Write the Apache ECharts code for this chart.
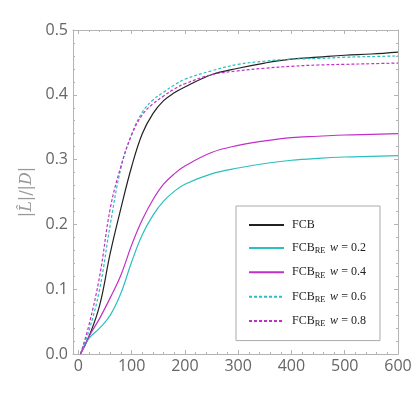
<!DOCTYPE html>
<html>
<head>
<meta charset="utf-8">
<script src="https://cdn.jsdelivr.net/npm/echarts@6/dist/echarts.min.js"></script>
</head>
<body style="margin:0;background:#fff;">
<div id="chart" style="width:416px;height:396px;"></div>
<script type="text/javascript">
// data
var xs = [4, 20, 40, 60, 80, 100, 120, 140, 160, 180, 200, 250, 300, 350, 400, 450, 500, 550, 600];
var fcb = [0, 0.027, 0.075, 0.156, 0.225, 0.289, 0.340, 0.371, 0.391, 0.403, 0.412, 0.431, 0.441, 0.449, 0.455, 0.458, 0.461, 0.463, 0.466];
var w02 = [0, 0.024, 0.040, 0.060, 0.094, 0.142, 0.184, 0.214, 0.236, 0.251, 0.262, 0.278, 0.287, 0.294, 0.299, 0.302, 0.304, 0.305, 0.306];
var w04 = [0, 0.027, 0.055, 0.087, 0.122, 0.168, 0.207, 0.238, 0.262, 0.278, 0.290, 0.311, 0.322, 0.329, 0.334, 0.336, 0.338, 0.339, 0.340];
var w06 = [0, 0.036, 0.100, 0.200, 0.287, 0.339, 0.373, 0.392, 0.404, 0.415, 0.424, 0.437, 0.447, 0.452, 0.455, 0.456, 0.458, 0.459, 0.460];
var w08 = [0, 0.045, 0.120, 0.225, 0.290, 0.338, 0.369, 0.386, 0.398, 0.409, 0.417, 0.431, 0.437, 0.441, 0.444, 0.446, 0.447, 0.448, 0.449];
var xMajor = [0, 100, 200, 300, 400, 500, 600];
var xMinor = [20, 40, 60, 80, 120, 140, 160, 180, 220, 240, 260, 280, 320, 340, 360, 380, 420, 440, 460, 480, 520, 540, 560, 580];

var frameColor = '#b4b4b4';
var labelColor = '#666';

function pairs(ys) {
	return xs.map(function (x, i) { return [x, ys[i]]; });
}

var legendText = {
	'FCB': '{n|FCB}',
	'w02': '{n|FCB}{s|RE} {i|w} {n|= 0.2}',
	'w04': '{n|FCB}{s|RE} {i|w} {n|= 0.4}',
	'w06': '{n|FCB}{s|RE} {i|w} {n|= 0.6}',
	'w08': '{n|FCB}{s|RE} {i|w} {n|= 0.8}'
};

function xAxisDef(pos, ticks, len, showLine, showLabel) {
	return {
		type: 'value', position: pos, min: -10, max: 600,
		axisLine: { show: showLine, onZero: false, lineStyle: { color: frameColor, width: 1 } },
		axisTick: { show: true, inside: true, length: len, customValues: ticks, lineStyle: { color: frameColor } },
		axisLabel: { show: showLabel, customValues: xMajor, color: labelColor, fontSize: 16, fontFamily: 'Open Sans', margin: 4 },
		splitLine: { show: false }
	};
}

function yAxisDef(pos, showLabel) {
	var ax = {
		type: 'value', position: pos, min: 0, max: 0.5, interval: 0.1,
		axisLine: { show: true, onZero: false, lineStyle: { color: frameColor, width: 1 } },
		axisTick: { show: true, inside: true, length: 4, lineStyle: { color: frameColor } },
		minorTick: { show: true, splitNumber: 5, length: 2, lineStyle: { color: frameColor } },
		axisLabel: { show: showLabel, color: labelColor, fontSize: 16, fontFamily: 'Open Sans', margin: 5,
			formatter: function (v) { return v.toFixed(1); } },
		splitLine: { show: false }
	};
	if (showLabel) {
		ax.name = '|{it|L\u0302}|/|{it|D}|';
		ax.nameLocation = 'middle';
		ax.nameGap = 38;
		ax.nameTextStyle = {
			color: '#999', fontSize: 16, fontFamily: 'DejaVu Serif',
			rich: { it: { fontStyle: 'italic', fontFamily: 'DejaVu Serif', fontSize: 16, color: '#999' } }
		};
	}
	return ax;
}

function line(name, ys, color, dashed) {
	return {
		name: name, type: 'line', data: pairs(ys), symbol: 'none',
		smooth: 0.4,
		lineStyle: { color: color, width: 1.2, type: dashed ? [3, 2] : 'solid' },
		itemStyle: { color: color }
	};
}

var chart = echarts.init(document.getElementById('chart'));
var option = {
	animation: false,
	grid: { left: 73, top: 30, right: 18, bottom: 42 },
	xAxis: [
		xAxisDef('bottom', xMajor, 4, true, true),
		xAxisDef('bottom', xMinor, 2, false, false),
		xAxisDef('top', xMajor, 4, true, false),
		xAxisDef('top', xMinor, 2, false, false)
	],
	yAxis: [yAxisDef('left', true), yAxisDef('right', false)],
	legend: {
		orient: 'vertical', left: 236, top: 206,
		padding: [13, 14, 12, 12],
		borderColor: '#aaa', borderWidth: 1,
		itemWidth: 35, itemHeight: 14, itemGap: 9.4,
		itemStyle: { opacity: 0 },
		formatter: function (name) { return legendText[name]; },
		textStyle: {
			padding: [0, 0, 0, 3],
			rich: {
				n: { fontFamily: 'Liberation Serif', fontSize: 12, color: '#222', lineHeight: 14 },
				i: { fontFamily: 'Liberation Serif', fontStyle: 'italic', fontSize: 12, color: '#222', lineHeight: 14 },
				s: { fontFamily: 'Liberation Serif', fontSize: 8.5, color: '#222', padding: [6, 1, 0, 0], lineHeight: 14 }
			}
		}
	},
	series: [
		line('FCB', fcb, '#222222', false),
		line('w02', w02, '#2bbfbf', false),
		line('w04', w04, '#c030c8', false),
		line('w06', w06, '#2bbfbf', true),
		line('w08', w08, '#c030c8', true)
	]
};
chart.setOption(option);
</script>
</body>
</html>
